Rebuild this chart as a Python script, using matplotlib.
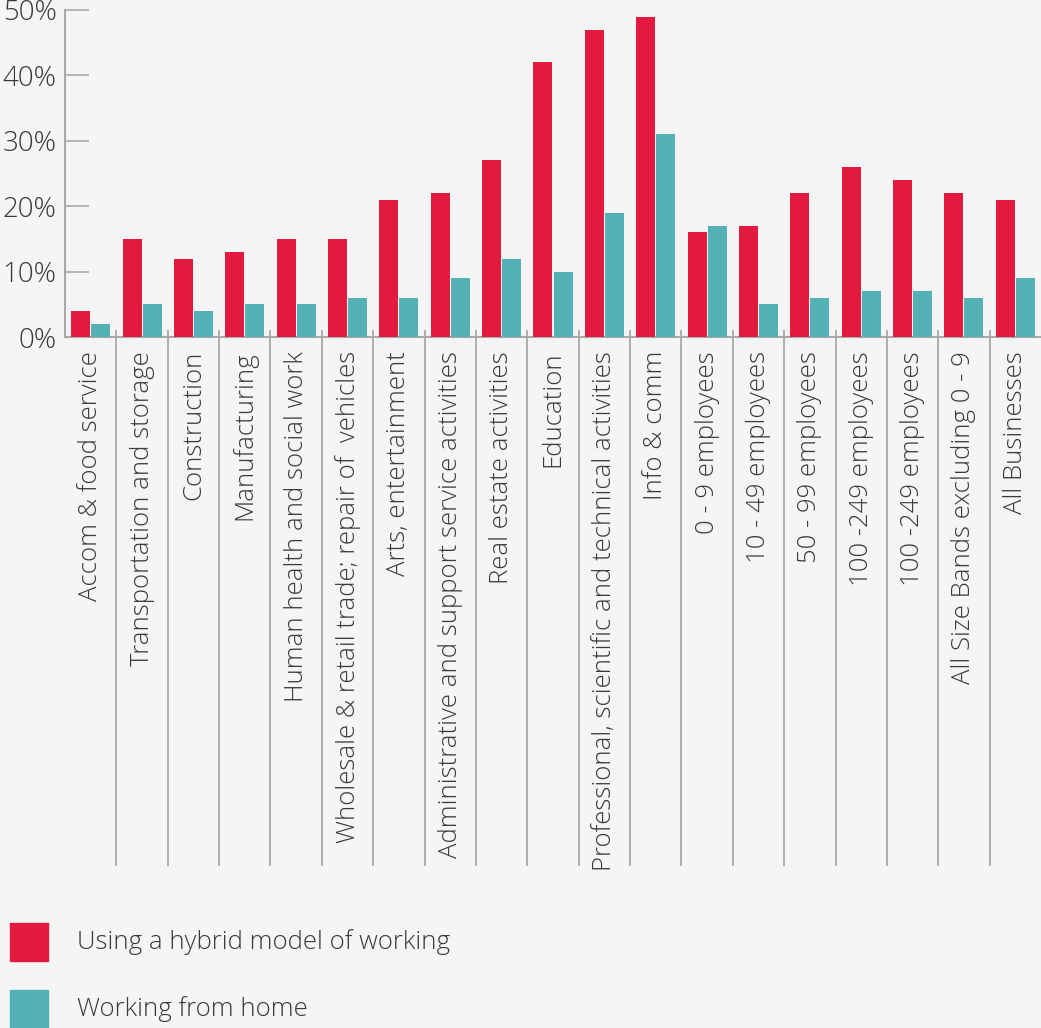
import numpy as np
import matplotlib.pyplot as plt
from matplotlib.patches import Rectangle
from matplotlib.transforms import blended_transform_factory

# categories and percentages
categories = [
    "Accom & food service",
    "Transportation and storage",
    "Construction",
    "Manufacturing",
    "Human health and social work",
    "Wholesale & retail trade; repair of  vehicles",
    "Arts, entertainment",
    "Administrative and support service activities",
    "Real estate activities",
    "Education",
    "Professional, scientific and technical activities",
    "Info & comm",
    "0 - 9 employees",
    "10 - 49 employees",
    "50 - 99 employees",
    "100 -249 employees",
    "100 -249 employees",
    "All Size Bands excluding 0 - 9",
    "All Businesses",
]
hybrid = [4, 15, 12, 13, 15, 15, 21, 22, 27, 42, 47, 49, 16, 17, 22, 26, 24, 22, 21]
home = [2, 5, 4, 5, 5, 6, 6, 9, 12, 10, 19, 31, 17, 5, 6, 7, 7, 6, 9]
yticks = [0, 10, 20, 30, 40, 50]
series_names = ["Using a hybrid model of working", "Working from home"]

RED = "#E31A40"
TEAL = "#54B2B6"
BG = "#F5F5F5"
AXIS = "#A8A8A8"
TEXT = "#3A3A3A"

plt.rcParams['font.family'] = ['Open Sans', 'DejaVu Sans']

W, H = 1041, 1028
fig = plt.figure(figsize=(W / 100, H / 100), dpi=100, facecolor=BG)
ax = fig.add_axes([65 / W, 1 - 337 / H, 976 / W, 327 / H], facecolor=BG)

x = np.arange(len(categories))
bw = 0.37
ax.bar(x - 0.195, hybrid, width=bw, color=RED, zorder=3)
ax.bar(x + 0.195, home, width=bw, color=TEAL, zorder=3)

ax.set_xlim(-0.5, len(categories) - 0.5)
ax.set_ylim(0, 50)

for s in ['top', 'right']:
    ax.spines[s].set_visible(False)
for s in ['left', 'bottom']:
    ax.spines[s].set_color(AXIS)
    ax.spines[s].set_linewidth(1.5)

ax.set_yticks(yticks)
ax.set_yticklabels([f"{v}%" for v in yticks])
ax.tick_params(axis='y', direction='in', length=17, width=1.2, color=AXIS,
               labelsize=20, labelcolor=TEXT, pad=6)
for lbl in ax.get_yticklabels():
    lbl.set_fontweight('light')

ax.set_xticks(x)
ax.set_xticklabels(categories, rotation=90, fontsize=18.5, color=TEXT,
                   fontweight='light', va='top', ha='center')
ax.tick_params(axis='x', length=0, pad=10)

# group separators reaching down past the labels
trans = blended_transform_factory(ax.transData, fig.transFigure)
for b in np.arange(0.5, len(categories) - 1, 1.0):
    ax.plot([b, b], [1 - 331 / H, 1 - 865 / H], color=AXIS, lw=1.3,
            transform=trans, clip_on=False, zorder=1)
ax.plot([-0.5, -0.5], [1 - 329 / H, 1 - 337 / H], color=AXIS, lw=1.3,
        transform=trans, clip_on=False)

# legend
for i, (name, col) in enumerate(zip(series_names, [RED, TEAL])):
    y0 = 923 + i * 67
    fig.patches.append(Rectangle((10 / W, 1 - (y0 + 38) / H), 38 / W, 38 / H,
                                 transform=fig.transFigure, color=col))
    fig.text(77 / W, 1 - (y0 + 19) / H, name, fontsize=18.5, color=TEXT,
             fontweight='light', va='center', ha='left')

fig.savefig("out.png", dpi=100, facecolor=BG)
